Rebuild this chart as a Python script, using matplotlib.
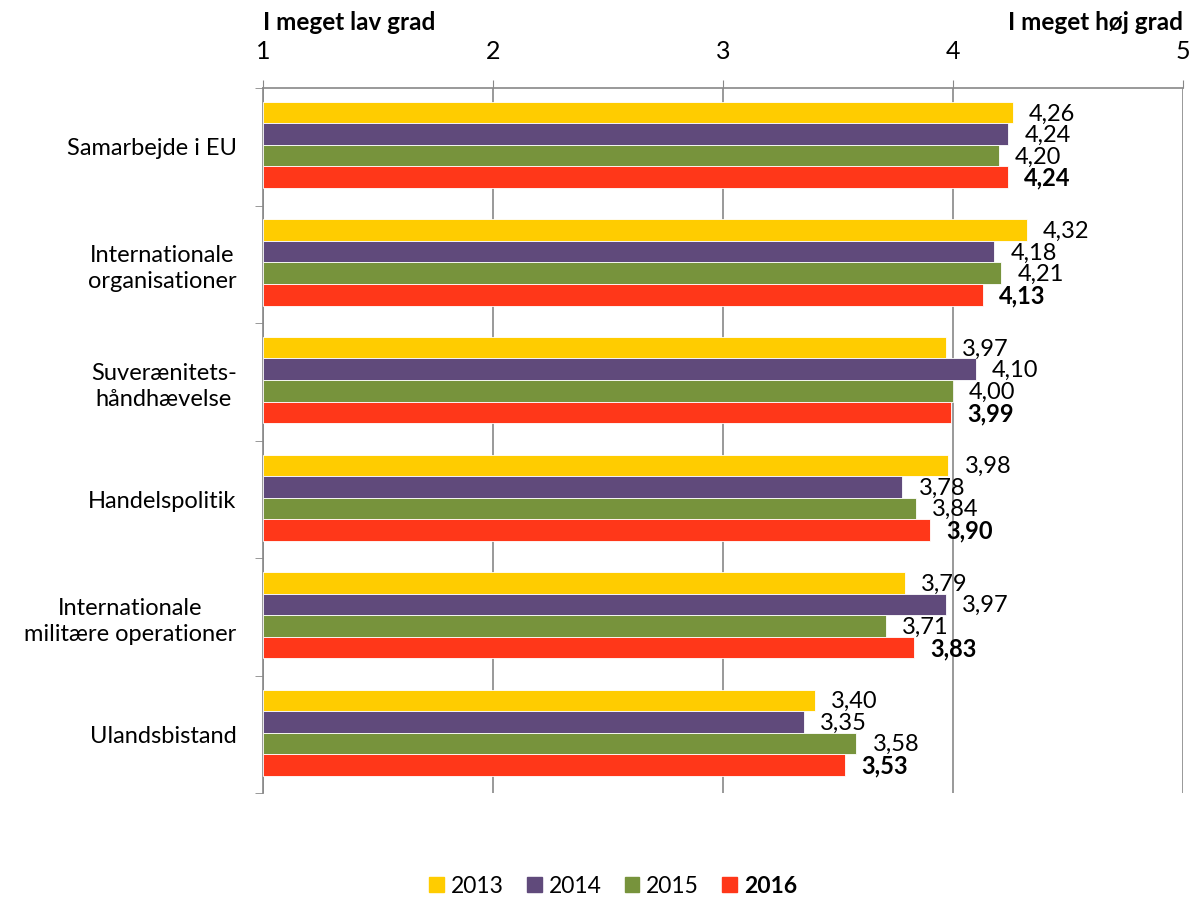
import numpy as np
import matplotlib.pyplot as plt
from matplotlib.patches import Patch

plt.rcParams['font.family'] = ['Lato', 'DejaVu Sans']

categories = ["Samarbejde i EU", "Internationale\norganisationer", "Suverænitets-\nhåndhævelse",
              "Handelspolitik", "Internationale\nmilitære operationer", "Ulandsbistand"]
years = ["2013", "2014", "2015", "2016"]
v2013 = [4.26, 4.32, 3.97, 3.98, 3.79, 3.40]
v2014 = [4.24, 4.18, 4.10, 3.78, 3.97, 3.35]
v2015 = [4.20, 4.21, 4.00, 3.84, 3.71, 3.58]
v2016 = [4.24, 4.13, 3.99, 3.90, 3.83, 3.53]
series = [v2013, v2014, v2015, v2016]
colors = ["#FFCC00", "#604A7B", "#77933C", "#FF3719"]

fig = plt.figure(figsize=(11.93, 8.97), dpi=100)
ax = fig.add_axes([0.2205, 0.1159, 0.7711, 0.786])

h = 0.183
y = np.arange(len(categories))
for i, (vals, c) in enumerate(zip(series, colors)):
    yy = y - 1.5 * h + i * h - 0.015
    ax.barh(yy, np.array(vals) - 1, left=1, height=h, color=c, edgecolor="white",
            linewidth=0.6, zorder=3)
    for yi, v in zip(yy, vals):
        ax.text(v + 0.07, yi + 0.01, f"{v:.2f}".replace(".", ","), va="center", ha="left",
                fontsize=17, fontweight="bold" if i == 3 else "normal", zorder=4)

ax.set_xlim(1, 5)
ax.set_ylim(len(categories) - 0.5, -0.5)
ax.xaxis.tick_top()
ax.set_xticks([1, 2, 3, 4, 5])
ax.tick_params(axis="x", which="major", direction="out", length=6, color="#888888",
               labelsize=18, pad=12)
ax.grid(axis="x", color="#888888", linewidth=1.2, zorder=0)

ax.set_yticks(y)
ax.set_yticklabels(categories, fontsize=17, linespacing=1.3, multialignment="center")
ax.tick_params(axis="y", which="major", length=0, pad=19)
ax.set_yticks(np.arange(len(categories) + 1) - 0.5, minor=True)
ax.tick_params(axis="y", which="minor", length=6, direction="out", color="#888888")

for s in ["right", "bottom"]:
    ax.spines[s].set_visible(False)
for s in ["top", "left"]:
    ax.spines[s].set_color("#888888")
    ax.spines[s].set_linewidth(1.2)

fig.text(0.2205, 0.975, "I meget lav grad", ha="left", va="center", fontsize=17.5, fontweight="bold")
fig.text(0.9916, 0.975, "I meget høj grad", ha="right", va="center", fontsize=17.5, fontweight="bold")

handles = [Patch(color=c) for c in colors]
leg = fig.legend(handles, years, loc="center", bbox_to_anchor=(0.514, 0.012), ncol=4,
                 frameon=False, fontsize=16.5, handlelength=0.65, handleheight=0.65,
                 columnspacing=1.0, handletextpad=0.3)
leg.get_texts()[3].set_fontweight("bold")

fig.savefig("out.png", dpi=100)
